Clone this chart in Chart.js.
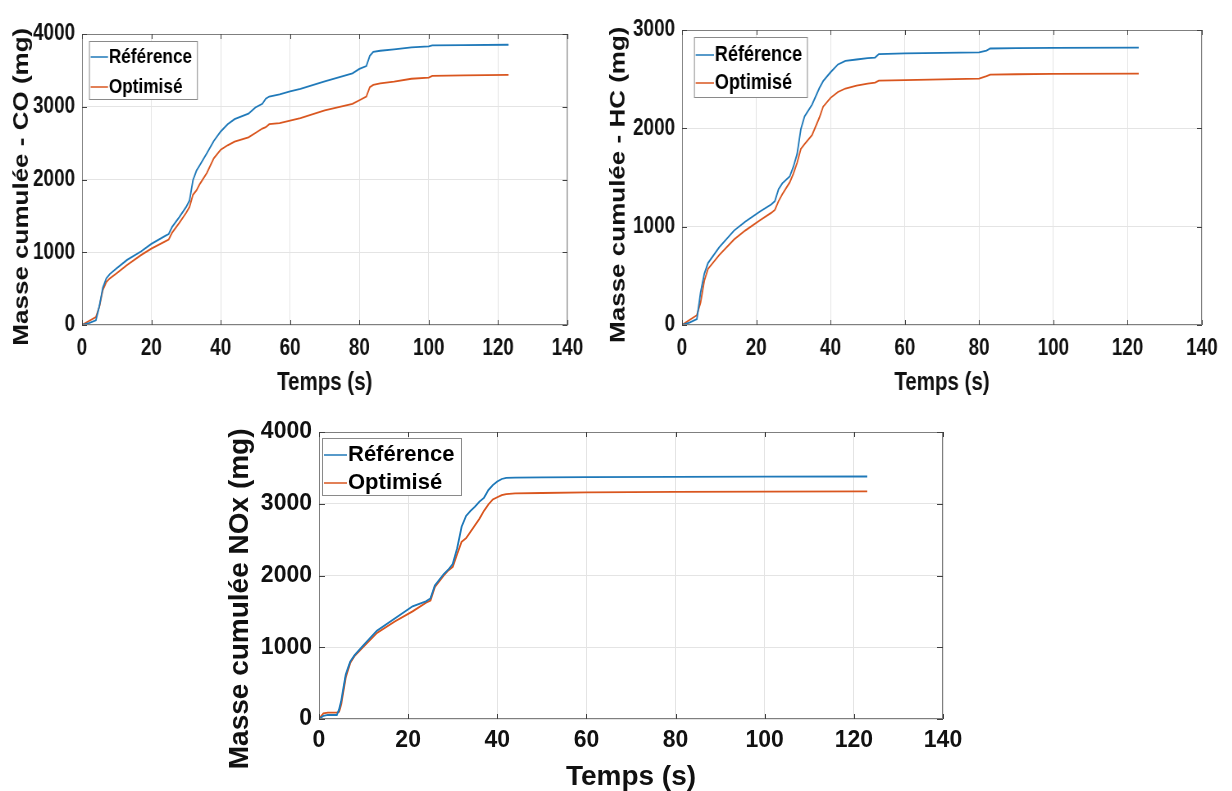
<!DOCTYPE html>
<html>
<head>
<meta charset="utf-8">
<script src="https://cdn.jsdelivr.net/npm/chart.js@4.4.1/dist/chart.umd.min.js"></script>
<style>
    body { margin: 0; background: #fff; }
    #wrap { position: relative; width: 1232px; height: 791px; overflow: hidden; }
    canvas { position: absolute; transform-origin: 0 0; }
</style>
</head>
<body>
<div id="wrap">
    <canvas id="chartCO"></canvas>
    <canvas id="chartHC"></canvas>
    <canvas id="chartNOx"></canvas>
</div>
<script>
// legend labels
const seriesNames = ["Référence", "Optimisé"];

// CO - cumulated mass (mg)
const coTime = [0, 2, 4, 5, 6, 7, 8, 10, 13, 17, 20, 24, 25, 26, 28, 30, 31, 32, 33, 34, 36, 38, 40, 42, 44, 48, 50, 52, 53, 54, 57, 60, 63, 70, 78, 80, 82, 83, 84, 86, 90, 95, 100, 101, 110, 123];
const coRef = [0, 25, 65, 260, 510, 640, 700, 780, 895, 1010, 1115, 1225, 1250, 1350, 1480, 1620, 1710, 1990, 2120, 2200, 2360, 2530, 2660, 2760, 2830, 2905, 2990, 3040, 3110, 3140, 3170, 3210, 3245, 3350, 3460, 3520, 3560, 3700, 3755, 3770, 3790, 3815, 3830, 3845, 3848, 3852];
const coOpt = [0, 55, 110, 250, 480, 590, 640, 710, 825, 960, 1050, 1150, 1175, 1270, 1400, 1540, 1620, 1790, 1850, 1940, 2090, 2290, 2410, 2470, 2520, 2580, 2640, 2700, 2720, 2760, 2775, 2810, 2845, 2950, 3040, 3090, 3140, 3270, 3300, 3320, 3345, 3385, 3400, 3425, 3432, 3437];

// HC - cumulated mass (mg)
const hcTime = [0, 2, 4, 5, 6, 7, 10, 14, 17, 21, 24, 25, 26, 27, 29, 30, 31, 32, 33, 35, 37, 38, 40, 42, 44, 47, 50, 52, 53, 60, 70, 80, 82, 83, 90, 100, 123];
const hcRef = [0, 25, 60, 330, 520, 630, 790, 960, 1050, 1155, 1225, 1260, 1380, 1440, 1510, 1610, 1740, 1990, 2120, 2240, 2410, 2480, 2570, 2650, 2685, 2700, 2715, 2720, 2755, 2762, 2768, 2772, 2790, 2812, 2816, 2818, 2820];
const hcOpt = [0, 50, 100, 230, 450, 570, 710, 870, 960, 1065, 1140, 1170, 1260, 1330, 1450, 1540, 1650, 1790, 1840, 1930, 2110, 2220, 2310, 2370, 2405, 2435, 2455, 2465, 2485, 2490, 2498, 2506, 2530, 2547, 2550, 2553, 2557];

// NOx - cumulated mass (mg)
const noxTime = [0, 1, 2, 4, 4.5, 5, 6, 7, 8, 10, 13, 17, 21, 24, 25, 26, 28, 29, 30, 31, 32, 33, 34, 35, 36, 37, 38, 39, 40, 41, 42, 44, 50, 60, 80, 100, 123];
const noxRef = [0, 45, 56, 56, 130, 260, 620, 800, 890, 1030, 1230, 1400, 1570, 1640, 1680, 1860, 2020, 2080, 2160, 2380, 2680, 2830, 2900, 2960, 3030, 3080, 3190, 3260, 3310, 3345, 3360, 3365, 3368, 3370, 3375, 3378, 3380];
const noxOpt = [0, 80, 88, 88, 100, 210, 580, 780, 880, 1010, 1200, 1360, 1500, 1620, 1650, 1840, 2000, 2070, 2120, 2300, 2470, 2520, 2610, 2700, 2790, 2900, 2990, 3060, 3090, 3120, 3135, 3145, 3150, 3158, 3165, 3170, 3172];

const BLUE = "#1f79b9";
const ORANGE = "#d9561f";
const FONT = "'Liberation Sans', Arial, sans-serif";

// turn time + value arrays into {x, y} points
function toPoints(times, values) {
    var pts = [];
    for (var i = 0; i < times.length; i++) {
        pts.push({ x: times[i], y: values[i] });
    }
    return pts;
}

// draws the matlab-like box, inward tick marks and the legend
const boxPlugin = {
    id: "boxLegend",
    afterDraw(chart, args, opts) {
        const ctx = chart.ctx;
        const a = chart.chartArea;
        ctx.save();

        // axes box
        ctx.strokeStyle = "#7f7f7f";
        ctx.lineWidth = 1;
        ctx.strokeRect(a.left + 0.5, a.top + 0.5, a.right - a.left - 1, a.bottom - a.top - 1);

        // inward ticks
        ctx.strokeStyle = "#404040";
        ctx.beginPath();
        chart.scales.x.ticks.forEach(function (t) {
            var px = Math.round(chart.scales.x.getPixelForValue(t.value)) + 0.5;
            ctx.moveTo(px, a.bottom); ctx.lineTo(px, a.bottom - 5);
            ctx.moveTo(px, a.top); ctx.lineTo(px, a.top + 5);
        });
        chart.scales.y.ticks.forEach(function (t) {
            var py = Math.round(chart.scales.y.getPixelForValue(t.value)) + 0.5;
            ctx.moveTo(a.left, py); ctx.lineTo(a.left + 6, py);
            ctx.moveTo(a.right, py); ctx.lineTo(a.right - 6, py);
        });
        ctx.stroke();

        // legend box
        var lx = a.left + opts.dx;
        var ly = a.top + opts.dy;
        ctx.fillStyle = "#fff";
        ctx.fillRect(lx, ly, opts.w, opts.h);
        ctx.strokeStyle = "#8a8a8a";
        ctx.strokeRect(lx + 0.5, ly + 0.5, opts.w, opts.h);

        ctx.font = opts.font;
        ctx.textBaseline = "middle";
        ctx.textAlign = "left";
        chart.data.datasets.forEach(function (ds, i) {
            var ry = ly + opts.rows[i];
            ctx.strokeStyle = ds.borderColor;
            ctx.lineWidth = 1.5;
            ctx.beginPath();
            ctx.moveTo(lx + 2, ry);
            ctx.lineTo(lx + opts.sample, ry);
            ctx.stroke();
            ctx.fillStyle = "#000";
            ctx.fillText(ds.label, lx + opts.sample + 1, ry);
        });
        ctx.restore();
    },
};

// cfg positions are given in screen pixels; sq < 1 squeezes the canvas horizontally
function makeChart(canvasId, times, refVals, optVals, cfg) {
    const sq = cfg.squeeze;
    const canvas = document.getElementById(canvasId);
    canvas.width = Math.round(cfg.width / sq);
    canvas.height = cfg.height;
    canvas.style.left = cfg.left + "px";
    canvas.style.top = cfg.top + "px";
    canvas.style.transform = "scaleX(" + sq + ")";

    const data = {
        datasets: [
            {
                label: seriesNames[0],
                data: toPoints(times, refVals),
                borderColor: BLUE,
                borderWidth: 1.8,
                pointRadius: 0,
                tension: 0,
            },
            {
                label: seriesNames[1],
                data: toPoints(times, optVals),
                borderColor: ORANGE,
                borderWidth: 1.8,
                pointRadius: 0,
                tension: 0,
            },
        ],
    };

    const lg = cfg.legend;
    const config = {
        type: "line",
        data,
        plugins: [boxPlugin],
        options: {
            responsive: false,
            animation: false,
            layout: {
                padding: {
                    left: 0,
                    top: cfg.areaTop,
                    right: Math.round((cfg.width - cfg.areaRight) / sq),
                    bottom: 0,
                },
            },
            plugins: {
                legend: { display: false },
                tooltip: { enabled: false },
                boxLegend: {
                    dx: lg.dx / sq, dy: lg.dy, w: lg.w / sq, h: lg.h,
                    rows: lg.rows, sample: lg.sample / sq, font: "bold " + lg.size + "px " + FONT,
                },
            },
            scales: {
                x: {
                    type: "linear",
                    min: 0,
                    max: 140,
                    afterFit: function (scale) { scale.height = cfg.height - cfg.areaBottom; },
                    ticks: {
                        stepSize: 20,
                        color: "#111",
                        padding: cfg.xTickPad,
                        maxRotation: 0,
                        callback: function (v) { return String(v); },
                        font: { family: FONT, size: cfg.tickSize, weight: "bold" },
                    },
                    grid: { color: "#e4e4e4", drawTicks: false },
                    border: { display: false },
                    title: {
                        display: true,
                        text: "Temps (s)",
                        color: "#111",
                        padding: { top: 0, bottom: cfg.xTitlePad },
                        font: { family: FONT, size: cfg.titleSize, weight: "bold", lineHeight: 1 },
                    },
                },
                y: {
                    min: 0,
                    max: cfg.yMax,
                    afterFit: function (scale) { scale.width = cfg.areaLeft / sq; },
                    ticks: {
                        stepSize: 1000,
                        color: "#111",
                        padding: 7 / sq,
                        callback: function (v) { return String(v); },
                        font: { family: FONT, size: cfg.tickSize, weight: "bold" },
                    },
                    grid: { color: "#e4e4e4", drawTicks: false },
                    border: { display: false },
                    title: {
                        display: true,
                        text: cfg.yTitle,
                        color: "#111",
                        padding: { top: cfg.yTitleX / sq - cfg.yTitleSize / 2, bottom: 0 },
                        font: { family: FONT, size: cfg.yTitleSize, weight: "bold", lineHeight: 1 },
                    },
                },
            },
        },
    };

    return new Chart(canvas, config);
}

// top left: CO
makeChart("chartCO", coTime, coRef, coOpt, {
    left: 0, top: 0, width: 600, height: 400, squeeze: 0.82,
    areaLeft: 82, areaTop: 34, areaRight: 567, areaBottom: 325, yMax: 4000,
    tickSize: 23, titleSize: 25, xTickPad: 10, xTitlePad: 4,
    yTitle: "Masse cumulée - CO (mg)  ", yTitleSize: 26, yTitleX: 22,
    legend: { dx: 7, dy: 7, w: 108, h: 58, rows: [16, 46], sample: 19, size: 21 },
});

// top right: HC
makeChart("chartHC", hcTime, hcRef, hcOpt, {
    left: 600, top: 0, width: 632, height: 400, squeeze: 0.82,
    areaLeft: 82, areaTop: 30, areaRight: 602, areaBottom: 325, yMax: 3000,
    tickSize: 23, titleSize: 25, xTickPad: 10, xTitlePad: 4,
    yTitle: "Masse cumulée - HC (mg)  ", yTitleSize: 26, yTitleX: 19,
    legend: { dx: 12, dy: 7, w: 113, h: 60, rows: [18, 46], sample: 20, size: 22 },
});

// bottom: NOx
makeChart("chartNOx", noxTime, noxRef, noxOpt, {
    left: 220, top: 400, width: 760, height: 391, squeeze: 1,
    areaLeft: 99, areaTop: 32, areaRight: 723, areaBottom: 319, yMax: 4000,
    tickSize: 23, titleSize: 28, xTickPad: 8, xTitlePad: 0,
    yTitle: "Masse cumulée NOx (mg)      ", yTitleSize: 28, yTitleX: 20,
    legend: { dx: 3, dy: 6, w: 139, h: 57, rows: [17, 45], sample: 25, size: 22 },
});
</script>
</body>
</html>
